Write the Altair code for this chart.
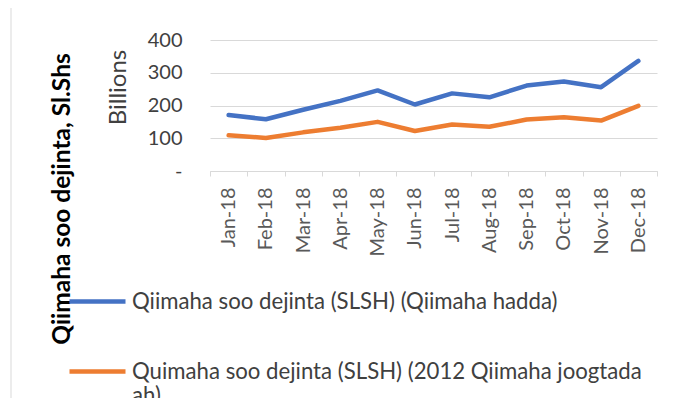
import altair as alt
import pandas as pd

months = ["Jan-18", "Feb-18", "Mar-18", "Apr-18", "May-18", "Jun-18",
          "Jul-18", "Aug-18", "Sep-18", "Oct-18", "Nov-18", "Dec-18"]
current_prices = [171, 158, 187, 214, 246, 203, 237, 225, 261, 273, 256, 336]
constant_prices = [109, 101, 118, 132, 150, 122, 142, 135, 157, 164, 154, 199]
series_names = ["Qiimaha soo dejinta (SLSH) (Qiimaha hadda)",
                "Quimaha soo dejinta (SLSH) (2012 Qiimaha joogtada ah)"]
series_colors = ["#4472C4", "#ED7D31"]
y_ticks = [0, 100, 200, 300, 400]
y_title = "Qiimaha soo dejinta, Sl.Shs"
unit_title = "Billions"

df = pd.DataFrame({
    "month": months * 2,
    "value": current_prices + constant_prices,
    "series": [series_names[0]] * len(months) + [series_names[1]] * len(months),
})

FONT = "Lato"
TXT = "#404040"
XTXT = "#595959"
GRID = "#d9d9d9"

wrap_expr = ("indexof(datum.label, 'joogtada') > 0 ? "
             "['Quimaha soo dejinta (SLSH) (2012 Qiimaha joogtada', 'ah)'] : datum.label")

lines = alt.Chart(df).mark_line(strokeWidth=4.5, strokeCap="round", strokeJoin="round").encode(
    x=alt.X("month:N", sort=months,
            scale=alt.Scale(type="band", paddingInner=0, paddingOuter=0),
            axis=alt.Axis(title=None, labelAngle=-90, tickBand="extent", grid=False,
                          labelFont=FONT, labelFontSize=20, labelColor=XTXT,
                          labelPadding=11, tickSize=5, tickColor=GRID, domainColor=GRID,
                          domainWidth=1)),
    y=alt.Y("value:Q", scale=alt.Scale(domain=[0, 400]),
            axis=alt.Axis(values=y_ticks, domain=False, ticks=False, grid=True, gridColor=GRID,
                          labelExpr="datum.value == 0 ? '-' : datum.label",
                          labelFont=FONT, labelFontSize=20, labelColor=TXT, labelPadding=28,
                          title=unit_title, titleFont=FONT, titleFontSize=24,
                          titleFontWeight="normal", titleColor=TXT, titleAngle=270,
                          titleX=-92, titleY=47, titleAlign="center", titleBaseline="middle")),
    color=alt.Color("series:N",
                    scale=alt.Scale(domain=series_names, range=series_colors),
                    legend=alt.Legend(title=None, orient="none", legendX=-143, legendY=231,
                                      direction="vertical", symbolType="stroke",
                                      symbolSize=3136, symbolStrokeWidth=4.5,
                                      labelFont=FONT, labelFontSize=22.2, labelColor=TXT,
                                      labelLimit=700, labelOffset=4, rowPadding=28,
                                      padding=0, labelExpr=wrap_expr)),
)

title_text = alt.Chart(pd.DataFrame({"t": [y_title]})).mark_text(
    angle=270, font=FONT, fontSize=24.5, fontWeight="bold", color="#000000",
    align="center", baseline="middle",
).encode(text="t:N", x=alt.value(-147), y=alt.value(159))

border = alt.Chart(pd.DataFrame({"a": [0]})).mark_rule(color=GRID, strokeWidth=1).encode(
    x=alt.value(-199), y=alt.value(-32), y2=alt.value(360))

chart = alt.layer(border, lines, title_text).properties(
    width=447, height=131,
    padding={"left": 202, "top": 32, "right": 16, "bottom": 227},
    autosize=alt.AutoSizeParams(type="none"),
).configure_view(stroke=None)

chart.save("out.html", embed_options={"renderer": "svg", "actions": False})
